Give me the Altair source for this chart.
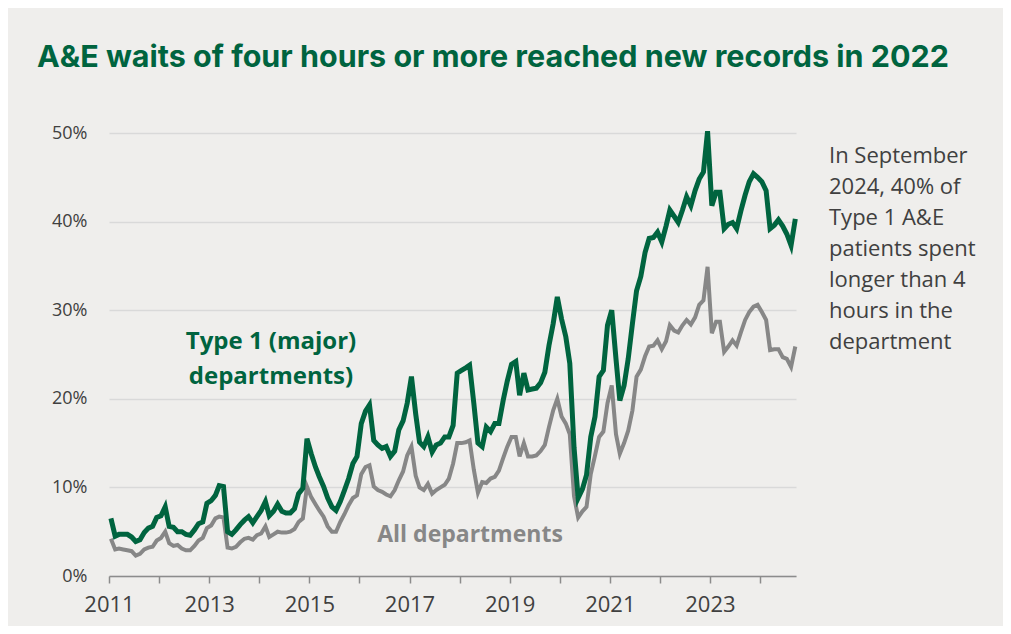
import altair as alt
import pandas as pd

# Share of A&E attendances spending 4+ hours (%), monthly from Jan 2011 to Sep 2024
type1 = [
    6.5, 4.5, 4.7, 4.7, 4.7, 4.4, 3.9, 4.1, 4.9, 5.4, 5.6, 6.6,
    6.8, 7.8, 5.6, 5.5, 5.0, 5.0, 4.7, 4.6, 5.2, 5.9, 6.1, 8.2,
    8.5, 9.1, 10.2, 10.1, 5.0, 4.7, 5.2, 5.8, 6.3, 6.7, 6.0, 6.7,
    7.4, 8.4, 6.8, 7.3, 8.1, 7.3, 7.1, 7.1, 7.6, 9.3, 9.9, 15.5,
    13.8, 12.3, 11.2, 10.1, 8.8, 7.8, 7.4, 8.4, 9.7, 11.0, 12.7, 13.5,
    17.2, 18.6, 19.3, 15.3, 14.8, 14.4, 14.6, 13.5, 14.1, 16.5, 17.5, 19.5,
    22.5, 18.3, 15.1, 14.6, 15.7, 14.0, 14.8, 15.0, 15.7, 15.7, 17.0, 22.9,
    23.2, 23.5, 23.8, 19.5, 15.0, 14.6, 16.8, 16.3, 17.2, 17.2, 19.8, 22.0,
    23.9, 24.2, 20.4, 22.9, 21.0, 21.1, 21.2, 21.8, 23.0, 26.0, 28.5, 31.5,
    29.0, 27.0, 24.0, 14.5, 8.8, 9.8, 11.4, 15.7, 18.0, 22.5, 23.2, 28.3,
    30.0, 24.5, 19.8, 21.5, 24.5, 28.5, 32.2, 33.8, 36.5, 38.1, 38.2, 38.8,
    37.7, 39.5, 41.3, 40.6, 39.9, 41.3, 42.8, 41.8, 43.5, 44.8, 45.6, 50.2,
    41.8, 43.3, 43.3, 39.2, 39.7, 39.9, 39.2, 41.2, 43.0, 44.5, 45.4, 45.0,
    44.5, 43.5, 39.2, 39.6, 40.2, 39.5, 38.6, 37.3, 40.3,
]
all_depts = [
    4.2, 3.0, 3.1, 3.0, 2.9, 2.8, 2.3, 2.5, 3.0, 3.2, 3.3, 4.0,
    4.3, 5.0, 3.7, 3.4, 3.5, 3.1, 2.9, 2.9, 3.4, 4.0, 4.3, 5.4,
    5.7, 6.5, 6.7, 6.6, 3.2, 3.1, 3.3, 3.8, 4.2, 4.3, 4.1, 4.6,
    4.8, 5.6, 4.4, 4.7, 5.0, 4.9, 4.9, 5.0, 5.3, 6.1, 6.5, 10.1,
    8.9, 8.1, 7.4, 6.7, 5.6, 5.0, 5.0, 6.1, 7.0, 8.0, 8.8, 9.1,
    11.5, 12.3, 12.5, 10.1, 9.7, 9.5, 9.2, 9.0, 9.7, 10.8, 11.8, 13.6,
    14.6, 11.3, 10.0, 9.7, 10.4, 9.3, 9.7, 10.0, 10.3, 11.0, 12.7, 15.0,
    15.0, 15.1, 15.3, 12.0, 9.4, 10.6, 10.5, 11.0, 11.2, 11.9, 13.3, 14.6,
    15.7, 15.7, 13.5, 15.0, 13.5, 13.5, 13.6, 14.1, 14.8, 16.8, 18.7, 20.0,
    18.0, 17.2, 16.0, 9.0, 6.6, 7.3, 7.8, 11.5, 13.6, 15.7, 16.3, 19.5,
    21.5, 16.0, 13.8, 15.0, 16.4, 18.7, 22.5, 23.3, 24.8, 25.9, 26.0, 26.6,
    25.6, 26.5, 28.3, 27.7, 27.5, 28.3, 28.9, 28.4, 29.2, 30.6, 31.1, 34.9,
    27.4, 28.7, 28.7, 25.3, 25.9, 26.6, 26.0, 27.5, 28.9, 29.8, 30.4, 30.6,
    29.8, 28.9, 25.5, 25.6, 25.6, 24.7, 24.5, 23.6, 25.9,
]
year_ticks = list(range(2011, 2025))
y_ticks = [0, 10, 20, 30, 40, 50]

title_text = "A&E waits of four hours or more reached new records in 2022"
type1_label = ["Type 1 (major)", "departments)"]
all_label = "All departments"
note_lines = ["In September", "2024, 40% of", "Type 1 A&E", "patients spent",
              "longer than 4", "hours in the", "department"]

GREEN = "#00643f"
GREY = "#878787"
TEXT = "#404040"
BG = "#efeeec"

n = len(type1)
dates = (pd.date_range("2011-01-01", periods=n, freq="MS") + pd.Timedelta(days=14)).strftime("%Y/%m/%d").tolist()
df = pd.DataFrame({
    "date": dates * 2,
    "value": type1 + all_depts,
    "series": ["Type 1"] * n + ["All"] * n,
})

x_enc = alt.X(
    "date:T",
    scale=alt.Scale(domain=[alt.DateTime(year=2011, month=1, date=1),
                            alt.DateTime(year=2024, month=9, date=20)]),
    axis=alt.Axis(
        values=[alt.DateTime(year=y, month=1, date=1) for y in year_ticks],
        labelExpr="year(datum.value) % 2 == 1 ? timeFormat(datum.value, '%Y') : ''",
        labelOverlap=False, labelFlush=False,
        title=None, grid=False,
        domainColor="#8c8c8c", domainWidth=1.5,
        tickColor="#8c8c8c", tickWidth=1.5, tickSize=7,
        labelFont="Open Sans", labelFontSize=22, labelColor=TEXT, labelPadding=11,
    ),
)
y_enc = alt.Y(
    "value:Q",
    scale=alt.Scale(domain=[0, 50], nice=False),
    axis=alt.Axis(
        values=y_ticks, labelExpr="datum.value + '%'",
        title=None, domain=False, ticks=False,
        grid=True, gridColor="#d9d9d9", gridWidth=1.5,
        labelFont="Open Sans", labelFontSize=18, labelColor=TEXT, labelPadding=22,
    ),
)

base = alt.Chart(df).encode(x=x_enc, y=y_enc)
grey_line = base.transform_filter(alt.datum.series == "All").mark_line(color=GREY, strokeWidth=4)
green_line = base.transform_filter(alt.datum.series == "Type 1").mark_line(color=GREEN, strokeWidth=5)

one = pd.DataFrame({"k": [0]})
t1 = alt.Chart(one).mark_text(
    text=type1_label, font="Open Sans", fontSize=24, fontWeight="bold",
    color=GREEN, align="center", baseline="alphabetic", lineHeight=35,
).encode(x=alt.value(162), y=alt.value(216))
t2 = alt.Chart(one).mark_text(
    text=all_label, font="Open Sans", fontSize=23, fontWeight="bold",
    color=GREY, align="center", baseline="alphabetic",
).encode(x=alt.value(361), y=alt.value(409))
t3 = alt.Chart(one).mark_text(
    text=note_lines, font="Open Sans", fontSize=22,
    color=TEXT, align="left", baseline="alphabetic", lineHeight=31,
).encode(x=alt.value(720), y=alt.value(30))

chart = alt.layer(grey_line, green_line, t1, t2, t3).properties(
    width=687, height=443,
    padding={"left": 101, "top": 125, "right": 207, "bottom": 50},
    autosize=alt.AutoSizeParams(type="none"),
    background=BG,
    title=alt.TitleParams(
        title_text, anchor="start", frame="group", dx=-72, offset=24,
        baseline="alphabetic",
        font="Inter", fontSize=30.5, fontWeight="bold", color=GREEN,
    ),
).configure_view(stroke=None)

chart.save("out.html", embed_options={"renderer": "svg", "actions": False})
